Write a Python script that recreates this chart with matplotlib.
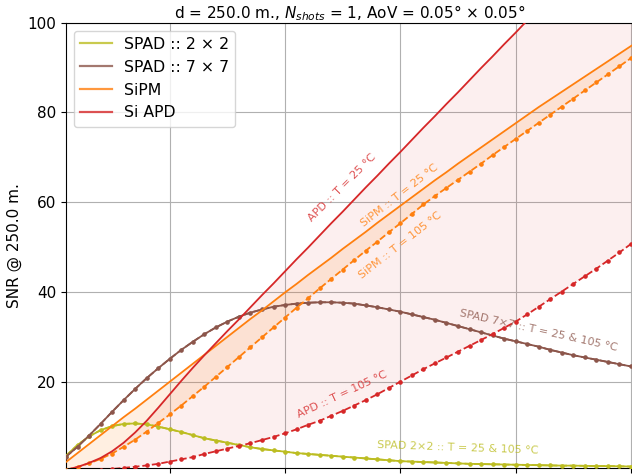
import numpy as np
import matplotlib
matplotlib.use("Agg")
import matplotlib.pyplot as plt
from matplotlib.lines import Line2D

# Sampling grid (same abscissa for every detector curve)
x = np.round(np.arange(0.2, 10.41, 0.2), 1)

# SNR curves at 250 m
spad2x2 = [3.5, 5.9, 7.8, 9.2, 10.1, 10.6, 10.7, 10.5, 10.0, 9.4,
           8.8, 8.1, 7.4, 6.9, 6.4, 5.9, 5.4, 5.0, 4.7, 4.4,
           4.1, 3.9, 3.7, 3.5, 3.3, 3.1, 2.9, 2.7, 2.5, 2.3,
           2.2, 2.1, 2.0, 1.9, 1.8, 1.7, 1.65, 1.6, 1.55, 1.5,
           1.45, 1.4, 1.35, 1.3, 1.3, 1.25, 1.2, 1.2, 1.15, 1.1,
           1.1, 1.05]
spad7x7 = [3.3, 5.5, 8.0, 10.6, 13.3, 15.9, 18.4, 20.8, 23.0, 25.1,
           27.1, 28.9, 30.6, 32.1, 33.4, 34.5, 35.4, 36.1, 36.7, 37.1,
           37.4, 37.6, 37.7, 37.7, 37.6, 37.4, 37.0, 36.6, 36.1, 35.6,
           35.0, 34.4, 33.8, 33.1, 32.4, 31.7, 31.0, 30.3, 29.6, 29.0,
           28.4, 27.8, 27.1, 26.5, 25.9, 25.4, 24.9, 24.4, 23.9, 23.4,
           22.9, 22.4]
sipm_25 = [2.1, 4.1, 6.1, 8.1, 10.1, 12.1, 14.0, 16.0, 18.0, 20.0,
           22.0, 24.0, 26.0, 28.0, 30.0, 32.0, 34.0, 35.9, 37.9, 39.9,
           41.8, 43.8, 45.7, 47.6, 49.6, 51.5, 53.4, 55.4, 57.3, 59.2,
           61.1, 63.0, 64.9, 66.7, 68.6, 70.4, 72.2, 74.0, 75.8, 77.6,
           79.4, 81.2, 82.9, 84.6, 86.3, 88.0, 89.7, 91.4, 93.1, 94.8,
           96.4, 98.0]
sipm_105 = [0.3, 1.0, 1.8, 2.8, 4.0, 5.5, 7.1, 8.9, 10.8, 12.7,
            14.7, 16.8, 18.9, 21.1, 23.3, 25.5, 27.7, 29.9, 32.1, 34.3,
            36.5, 38.6, 40.8, 42.9, 45.0, 47.1, 49.2, 51.2, 53.3, 55.3,
            57.4, 59.5, 61.4, 63.2, 65.0, 66.8, 68.6, 70.5, 72.3, 74.1,
            75.9, 77.7, 79.5, 81.3, 83.1, 84.9, 86.7, 88.5, 90.3, 92.1,
            93.9, 95.7]
apd_25 = [0.4, 1.0, 1.9, 3.0, 4.5, 6.4, 8.7, 11.3, 14.2, 17.2,
          20.2, 23.1, 25.9, 28.6, 31.3, 33.9, 36.6, 39.3, 41.9, 44.6,
          47.3, 49.9, 52.6, 55.3, 57.9, 60.6, 63.3, 65.9, 68.6, 71.2,
          73.9, 76.6, 79.2, 81.9, 84.5, 87.2, 89.9, 92.5, 95.2, 97.8,
          100.5, 103.2, 105.8, 108.5, 111.1, 113.8, 116.5, 119.1, 121.8, 124.4,
          127.1, 129.8]
apd_105 = [0.05, 0.1, 0.2, 0.35, 0.55, 0.8, 1.05, 1.35, 1.7, 2.2,
           2.7, 3.2, 3.9, 4.5, 5.1, 5.7, 6.3, 7.0, 7.7, 8.5,
           9.4, 10.4, 11.3, 12.4, 13.5, 14.7, 15.9, 17.2, 18.6, 20.0,
           21.4, 22.8, 24.1, 25.4, 26.7, 28.0, 29.3, 30.6, 32.0, 33.4,
           35.0, 36.7, 38.4, 40.1, 41.8, 43.5, 45.2, 47.0, 48.8, 50.7,
           52.5, 54.3]

legend_labels = ["SPAD :: 2 \u00d7 2", "SPAD :: 7 \u00d7 7", "SiPM", "Si APD"]
C_SPAD2, C_SPAD7, C_SIPM, C_APD = "#bcbd22", "#8c564b", "#ff7f0e", "#d62728"

fig = plt.figure(figsize=(6.32, 4.75), dpi=100)
ax = fig.add_axes([66 / 632, 7.3 / 475, 567 / 632, 445 / 475])

# temperature bands between 25 degC and 105 degC
ax.fill_between(x, apd_105, apd_25, color=C_APD, alpha=0.07, lw=0, zorder=1)
ax.fill_between(x, sipm_105, sipm_25, color=C_SIPM, alpha=0.12, lw=0, zorder=1)

curves = [(spad2x2, spad2x2, C_SPAD2),
          (spad7x7, spad7x7, C_SPAD7),
          (sipm_25, sipm_105, C_SIPM),
          (apd_25, apd_105, C_APD)]
for hot, cold, col in curves:
    ax.plot(x, hot, color=col, lw=1.3, zorder=3)
    ax.plot(x, cold, color=col, lw=1.3, ls="--", marker="o", ms=2.3, zorder=3)

ax.set_xlim(0.2, 10.035)
ax.set_ylim(0.84, 100)
ax.set_xticks([2, 4, 6, 8, 10])
ax.set_yticks([20, 40, 60, 80, 100])
ax.tick_params(labelsize=11)
ax.tick_params(axis="x", labelbottom=False)
ax.grid(True, color="#b0b0b0", lw=0.8, zorder=0)
ax.set_axisbelow(True)

ax.set_ylabel("SNR @ 250.0 m.", fontsize=11)
ax.set_title(r"d = 250.0 m., $N_{shots}$ = 1, AoV = 0.05$\degree$ $\times$ 0.05$\degree$",
             fontsize=11, pad=3.4)

handles = [Line2D([], [], color=c, lw=1.6, alpha=0.8) for c in (C_SPAD2, C_SPAD7, C_SIPM, C_APD)]
ax.legend(handles, legend_labels, loc="upper left", fontsize=11.3)

notes = [
    ("APD :: T = 25 \u00b0C", 4.99, 63.2, 45, C_APD),
    ("SiPM :: T = 25 \u00b0C", 5.98, 61.6, 38, C_SIPM),
    ("SiPM :: T = 105 \u00b0C", 5.99, 50.5, 38, C_SIPM),
    ("SPAD 7\u00d77 :: T = 25 & 105 \u00b0C", 8.4, 31.4, -12.5, C_SPAD7),
    ("APD :: T = 105 \u00b0C", 4.99, 17.2, 25, C_APD),
    ("SPAD 2\u00d72 :: T = 25 & 105 \u00b0C", 7.0, 5.3, -2, C_SPAD2),
]
for txt, tx, ty, rot, col in notes:
    ax.text(tx, ty, txt, color=col, alpha=0.8, fontsize=8, rotation=rot,
            ha="center", va="center", rotation_mode="anchor", zorder=4)

fig.savefig("out.png", dpi=100)
